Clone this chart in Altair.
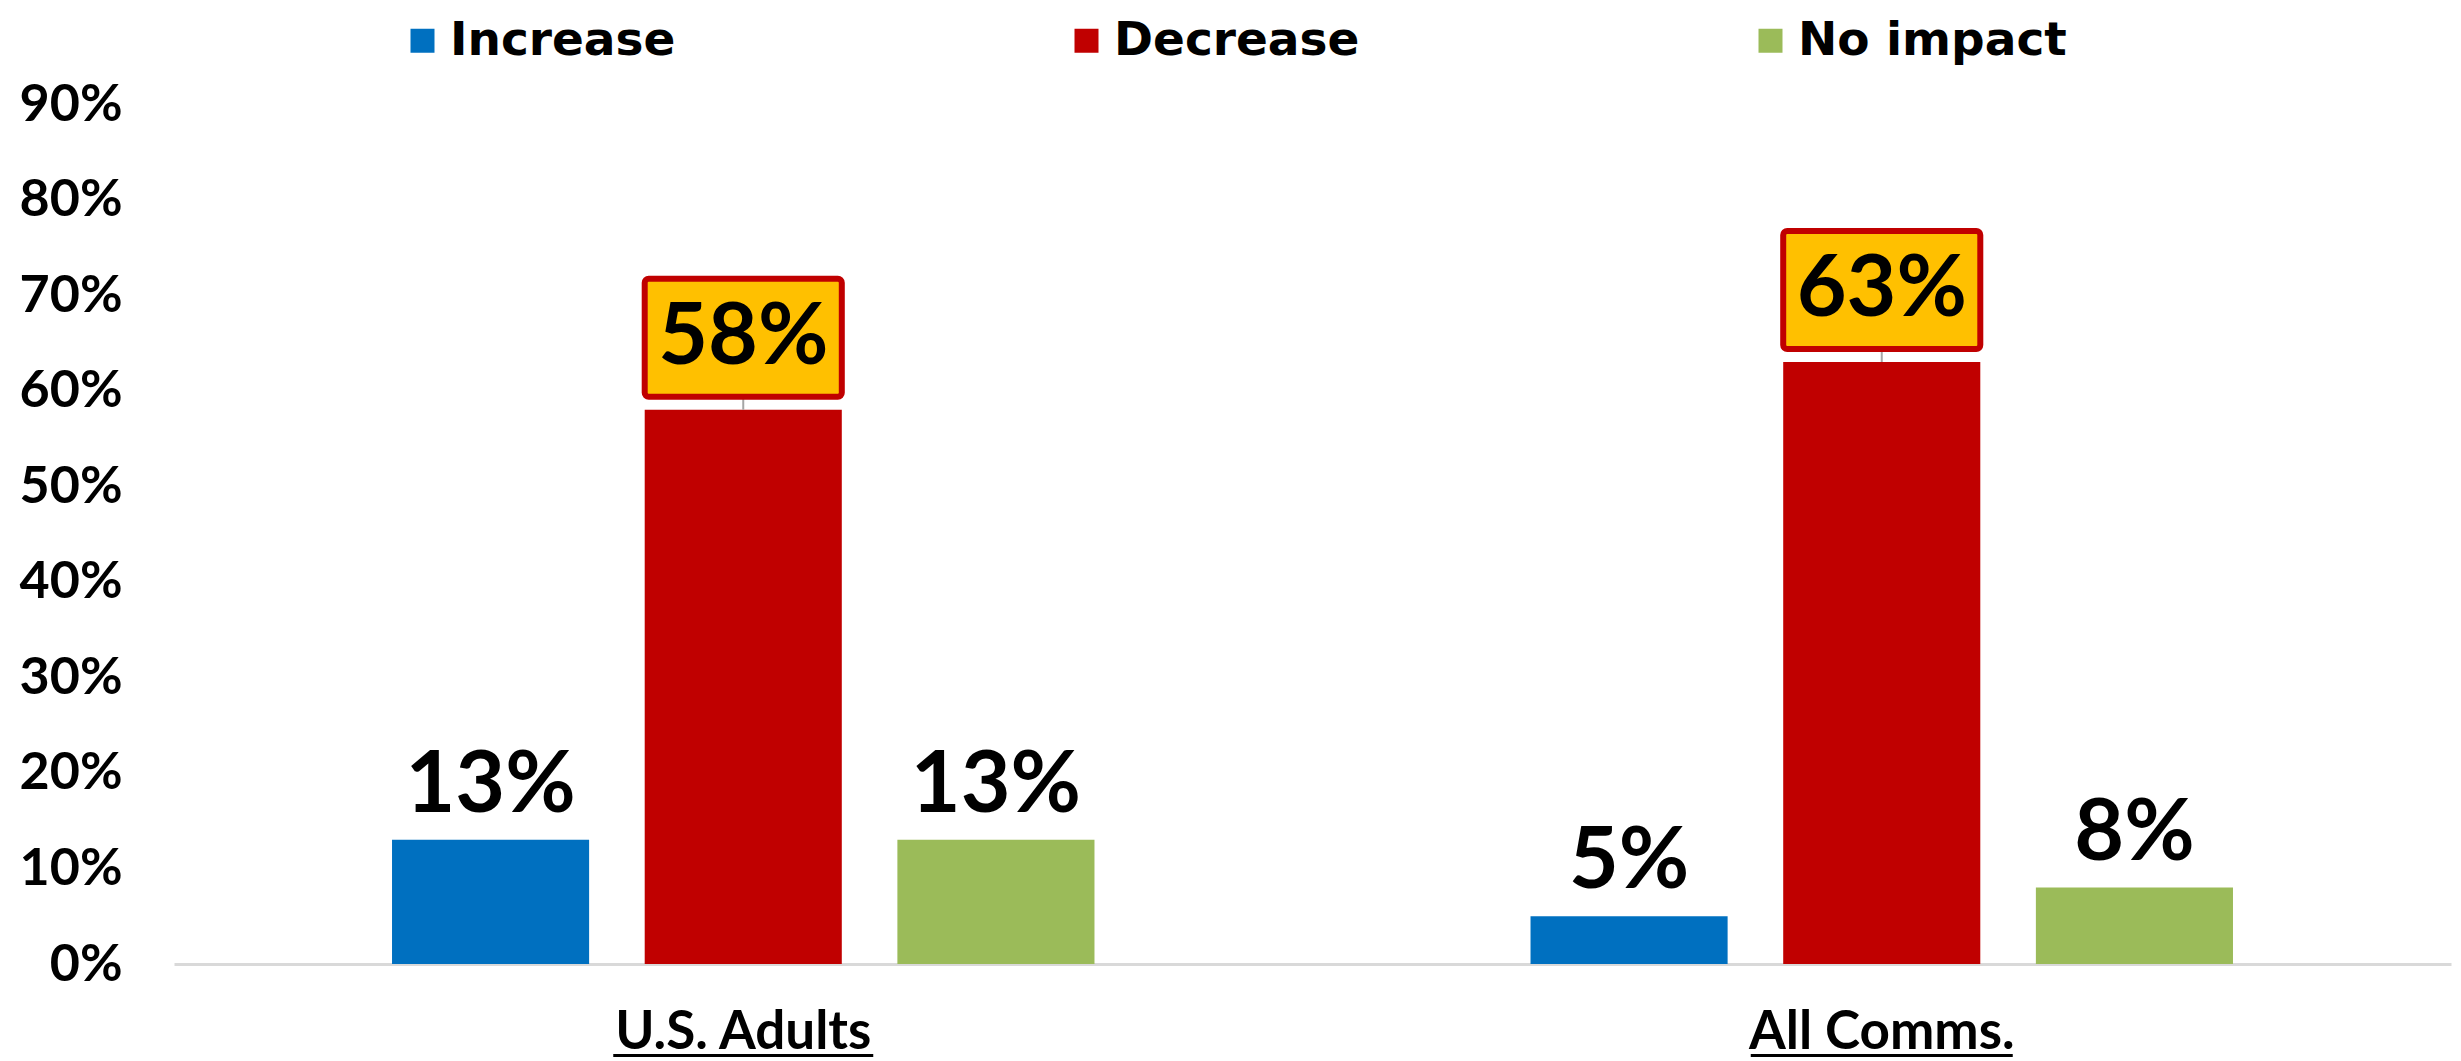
import altair as alt
import pandas as pd

groups = ["U.S. Adults", "All Comms."]
categories = ["Increase", "Decrease", "No impact"]
increase = [0.13, 0.05]
decrease = [0.58, 0.63]
no_impact = [0.13, 0.08]
y_ticks = [0, 0.1, 0.2, 0.3, 0.4, 0.5, 0.6, 0.7, 0.8, 0.9]
colors = ["#0070C0", "#C00000", "#9BBB59"]
highlight = "Decrease"

rows = []
for i, g in enumerate(groups):
    for c, vals in zip(categories, [increase, decrease, no_impact]):
        rows.append({"group": g, "cat": c, "value": vals[i]})
df = pd.DataFrame(rows)

FONT = "Lato"
W, H = 2277, 860

xscale = alt.Scale(domain=groups, paddingInner=0.383, paddingOuter=0.1915)
x = alt.X("group:N", sort=groups, title=None, scale=xscale,
          axis=alt.Axis(labelFont=FONT, labelFontWeight="bold", labelFontSize=53,
                        labelColor="black", labelPadding=42, ticks=False,
                        labelLimit=0, domainColor="#D9D9D9", domainWidth=3,
                        labelAngle=0))
xo = alt.XOffset("cat:N", sort=categories,
                 scale=alt.Scale(paddingInner=0.22, paddingOuter=0))
y = alt.Y("value:Q", title=None,
          scale=alt.Scale(domain=[0, 0.9], nice=False),
          axis=alt.Axis(values=y_ticks, format=".0%", labelFont=FONT,
                        labelFontWeight="bold", labelFontSize=52, labelColor="black",
                        labelPadding=52, domain=False, ticks=False, grid=False))
color = alt.Color("cat:N", sort=categories,
                  scale=alt.Scale(domain=categories, range=colors),
                  legend=alt.Legend(title=None, orient="none", direction="horizontal",
                                    columns=3, legendX=225, legendY=-87,
                                    symbolType="square", symbolSize=576,
                                    symbolStrokeWidth=0, labelFont="DejaVu Sans",
                                    labelFontWeight="bold", labelFontSize=47,
                                    labelColor="black", labelOffset=4,
                                    columnPadding=387, labelLimit=0))

base = alt.Chart(df)

bars = base.mark_bar().encode(x=x, xOffset=xo, y=y, color=color)

labels = base.transform_filter(alt.datum.cat != highlight).mark_text(
    font=FONT, fontWeight="bold", fontSize=86, color="black",
    baseline="alphabetic", align="center", yOffset=-28
).encode(x=x, xOffset=xo, y=y, text=alt.Text("value:Q", format=".0%"))

hl = base.transform_filter(alt.datum.cat == highlight)

leader = hl.mark_rule(color="#A6A6A6", strokeWidth=2, y2Offset=-13).encode(
    x=x, xOffset=xo, y=y, y2="value:Q")

box = hl.mark_bar(fill="#FFC000", stroke="#C00000", strokeWidth=6,
                  cornerRadius=4, yOffset=-13, y2Offset=-131).encode(
    x=x, xOffset=xo, y=y, y2="value:Q")

box_text = hl.mark_text(font=FONT, fontWeight="bold", fontSize=86, color="black",
                        baseline="middle", align="center", yOffset=-72).encode(
    x=x, xOffset=xo, y=y, text=alt.Text("value:Q", format=".0%"))

underline_width = {"U.S. Adults": 260, "All Comms.": 262}
unders = []
for g in groups:
    unders.append(
        base.transform_filter(alt.datum.group == g)
        .transform_aggregate(n="count()", groupby=["group"])
        .mark_bar(color="black", width=underline_width[g])
        .encode(x=alt.X("group:N", sort=groups, scale=xscale),
                y=alt.value(H + 90), y2=alt.value(H + 93))
    )

chart = alt.layer(bars, labels, leader, box, box_text, *unders).properties(
    width=W, height=H,
    background="white",
    autosize=alt.AutoSizeParams(type="none"),
    padding={"left": 166, "top": 96, "right": 2, "bottom": 97},
).configure_view(stroke=None, strokeWidth=0)

chart.save("out.html", embed_options={"renderer": "svg", "actions": False})
